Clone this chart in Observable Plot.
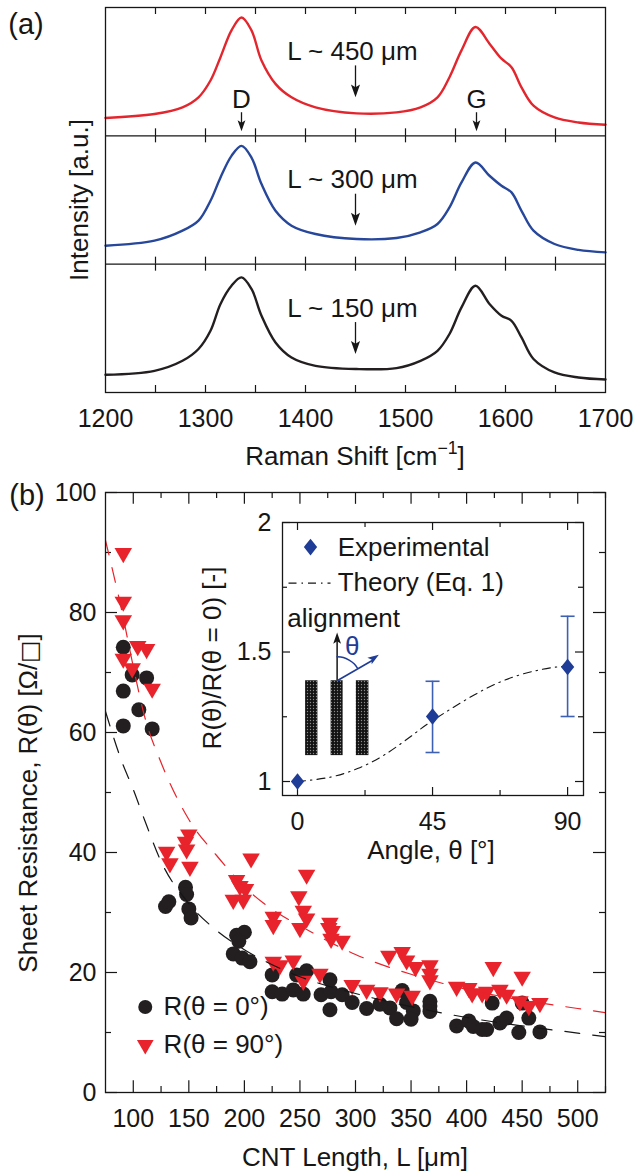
<!DOCTYPE html>
<html><head><meta charset="utf-8">
<script src="https://cdn.jsdelivr.net/npm/d3@7"></script>
<script src="https://cdn.jsdelivr.net/npm/@observablehq/plot@0.6"></script>
<style>
body{margin:0;background:#fff;}
#root{position:relative;width:634px;height:1174px;overflow:hidden;font-family:"Liberation Sans",Arial,Helvetica,sans-serif;color:#111;background:#fff;}
.panel{position:absolute;}
.lbl{position:absolute;transform:translate(-50%,-50%);white-space:nowrap;font-size:26px;line-height:1;}
.rot{transform:translate(-50%,-50%) rotate(-90deg);}
sup{font-size:0.68em;vertical-align:0.62em;line-height:0;}
.sq{font-family:"DejaVu Sans",sans-serif;font-size:0.9em;color:#161616;}
</style></head><body><div id="root"></div>
<script>
const FONT = '"Liberation Sans", Arial, Helvetica, sans-serif';

// ---------------- Panel (a): Raman spectra ----------------
const ramanShift = [1200,1249,1277,1293,1305,1315,1326,1336,1346,1356,1370,1386,1410,1451,1491,1515,1532,1544,1556,1570,1584,1596,1606,1616,1628,1649,1673,1700];
const intensity450 = [0.139,0.170,0.222,0.300,0.431,0.613,0.822,0.922,0.822,0.587,0.405,0.300,0.222,0.175,0.183,0.222,0.300,0.457,0.666,0.848,0.718,0.601,0.535,0.378,0.235,0.143,0.104,0.086];
const intensity300 = [0.144,0.183,0.261,0.339,0.494,0.676,0.844,0.922,0.831,0.624,0.416,0.300,0.235,0.196,0.204,0.248,0.313,0.442,0.637,0.792,0.689,0.611,0.559,0.416,0.261,0.157,0.111,0.092];
const intensity150 = [0.138,0.169,0.247,0.339,0.481,0.690,0.832,0.897,0.807,0.598,0.390,0.273,0.208,0.183,0.190,0.247,0.325,0.456,0.663,0.832,0.690,0.598,0.559,0.429,0.261,0.156,0.117,0.101];
const spectrumNames = ["L ~ 450 μm", "L ~ 300 μm", "L ~ 150 μm"];
const spectrumColors = ["#e3262d", "#27479b", "#231f20"];
const spectrumOffsets = [2, 1, 0];
const ramanTickLabels = [1200, 1300, 1400, 1500, 1600, 1700];
const ramanTicks = [1250, 1300, 1350, 1400, 1450, 1500, 1550, 1600, 1650];
const peakNames = ["D", "G"];
const peakShifts = [1336, 1571];
const annoShift = 1450;

// ---------------- Panel (b): sheet resistance ----------------
const lengthR0 = [91,99,112,91,105,91,117,129,132,147,148,150,152,193,200,195,190,198,205,225,225,234,247,256,244,253,269,277,278,277,288,297,310,322,331,337,342,346,352,350,367,367,367,391,402,406,414,418,423,430,436,447,450,456,466];
const sheetR0 = [74.2,69.6,69.1,66.9,63.8,61.1,60.6,31.0,31.8,34.2,33.0,30.6,29.1,26.2,26.7,25.2,23.1,22.4,21.8,19.6,16.8,16.4,19.6,20.3,17.1,16.4,16.3,18.8,16.8,13.8,16.3,15.0,14.0,14.7,14.1,12.3,17.0,15.0,13.6,12.2,15.2,14.4,13.5,11.1,11.9,11.0,10.5,10.5,14.9,11.6,12.4,10.0,14.9,12.4,10.1];
const lengthR90 = [91,91,91,104,112,91,99,117,130,133,150,147,148,151,206,193,196,201,190,199,256,249,253,256,250,226,226,226,232,244,253,268,277,276,279,278,288,297,310,322,337,351,330,342,346,354,367,367,367,391,402,405,414,418,424,430,436,450,448,456,466];
const sheetR90 = [89.9,81.8,78.7,74.4,73.9,72.3,70.7,67.3,40.1,38.2,43.0,41.8,40.5,37.6,39.0,35.4,34.4,33.9,32.1,32.1,36.3,32.7,30.3,29.0,27.4,29.3,27.9,21.8,21.2,22.0,18.6,19.8,28.3,27.4,26.9,25.6,25.3,17.9,17.1,16.7,16.5,16.1,22.8,23.4,22.0,20.9,21.2,19.8,18.7,17.6,17.4,16.5,16.5,16.8,20.9,17.1,16.3,19.3,15.2,14.4,14.9];
const fitLength = [75,90,100,110,125,150,175,200,225,250,300,350,400,450,500,525];
const fitR0 = [63.5,55.0,50.5,45.5,38.5,31.5,27.0,23.8,21.3,19.3,16.5,14.3,12.5,11.1,9.9,9.3];
const fitR90 = [92.0,80.0,71.0,62.8,55.0,45.5,39.5,34.3,30.5,27.8,23.0,19.7,17.2,15.4,14.0,13.3];
const lengthTickLabels = [100,150,200,250,300,350,400,450,500];
const lengthMinorTicks = [125,175,225,275,325,375,425,475,525];
const resistanceTickLabels = [0,20,40,60,80,100];
const resistanceMinorTicks = [10,30,50,70,90];
const legendB = ["R(θ = 0°)", "R(θ = 90°)"];

// ---------------- Inset ----------------
const expAngle = [0, 45, 90];
const expRatio = [1.0, 1.251, 1.442];
const expLow = [1.0, 1.112, 1.251];
const expHigh = [1.0, 1.387, 1.638];
const theoryAngle = [0, 11, 20, 29, 39, 45, 59, 73, 85, 90];
const theoryRatio = [1.0, 1.017, 1.05, 1.103, 1.185, 1.235, 1.335, 1.408, 1.440, 1.445];
const angleTickLabels = [0, 45, 90];
const angleMinorTicks = [22.5, 67.5];
const ratioTickLabels = [1, 1.5, 2];
const ratioMinorTicks = [1.25, 1.75];
const legendInset = ["Experimental", "Theory (Eq. 1)"];
const cntBars = [{x1: 2.7, x2: 6.8}, {x1: 11.2, x2: 15.2}, {x1: 19.6, x2: 23.8}];
const cntBarBottom = 1.10, cntBarTop = 1.389;
const alignArrow = {x: 13.2, y1: 1.389, y2: 1.575};
const thetaArrow = {x2: 27.1, y2: 1.489};
const arcAngle = [13.2, 15.27, 17.2, 18.86, 19.98];
const arcRatio = [1.482, 1.479, 1.469, 1.455, 1.438];

// ---------------- helpers ----------------
const INK = "#161616";
const arrowHead = {draw(ctx, size) {const r = Math.sqrt(size / Math.PI); ctx.moveTo(0, 0); ctx.lineTo(-0.65 * r, 1.85 * r); ctx.lineTo(0, 1.45 * r); ctx.lineTo(0.65 * r, 1.85 * r); ctx.closePath();}};
const triDown = {draw(ctx, size) {const y = Math.sqrt(size / (Math.sqrt(3) * 3)); ctx.moveTo(0, 2 * y); ctx.lineTo(-Math.sqrt(3) * y, -y); ctx.lineTo(Math.sqrt(3) * y, -y); ctx.closePath();}};
const diamond = {draw(ctx, size) {const r = Math.sqrt(size / Math.PI); ctx.moveTo(0, -r); ctx.lineTo(0.8 * r, 0); ctx.lineTo(0, r); ctx.lineTo(-0.8 * r, 0); ctx.closePath();}};

function xTickRules(vals, len, yFrom, dir, yDom, H) {
  const d = dir * len * (yDom[1] - yDom[0]) / H;
  return Plot.ruleX(vals, {x: v => v, y1: () => yFrom, y2: () => yFrom + d, stroke: INK, strokeWidth: 1.2});
}
function yTickRules(vals, len, xFrom, dir, xDom, W) {
  const d = dir * len * (xDom[1] - xDom[0]) / W;
  return Plot.ruleY(vals, {y: v => v, x1: () => xFrom, x2: () => xFrom + d, stroke: INK, strokeWidth: 1.2});
}
const svgStyle = {background: "transparent", fontFamily: FONT, fontSize: "25px", color: INK, overflow: "visible"};

const root = document.getElementById("root");
function place(node, left, top) {
  const d = document.createElement("div"); d.className = "panel"; d.style.left = left + "px"; d.style.top = top + "px";
  d.appendChild(node); root.appendChild(d); return node;
}
function label(html, x, y, {rot = false, size = 26, color = INK} = {}) {
  const d = document.createElement("div"); d.className = "lbl" + (rot ? " rot" : "");
  d.style.left = x + "px"; d.style.top = y + "px"; d.style.fontSize = size + "px"; d.style.color = color;
  d.innerHTML = html; root.appendChild(d);
}

// ---------------- Panel (a) ----------------
{
  const W = 500, H = 385, xDom = [1200, 1700], yDom = [0, 3];
  const marks = [];
  spectrumNames.forEach((name, k) => {
    const vals = [intensity450, intensity300, intensity150][k];
    const rows = ramanShift.map((s, i) => ({shift: s, y: vals[i] + spectrumOffsets[k]}));
    marks.push(Plot.line(rows, {x: "shift", y: "y", stroke: spectrumColors[k], strokeWidth: 2.4, curve: "catmull-rom"}));
  });
  marks.push(Plot.ruleY([1, 2], {stroke: INK, strokeWidth: 1.3}));
  for (const b of [0, 1, 2, 3]) {
    if (b < 3) marks.push(xTickRules(ramanTicks, 7, b, 1, yDom, H));
    if (b > 0) marks.push(xTickRules(ramanTicks, 7, b, -1, yDom, H));
  }
  const annoRows = spectrumNames.map((name, k) => ({name, off: spectrumOffsets[k]}));
  marks.push(Plot.text(annoRows, {x: () => annoShift - 3, y: d => d.off + 0.655, text: "name", fontSize: 26, fill: INK}));
  marks.push(Plot.ruleX(annoRows, {x: () => annoShift, y1: d => d.off + 0.545, y2: d => d.off + 0.33, stroke: INK, strokeWidth: 1.3}));
  marks.push(Plot.dot(annoRows, {x: () => annoShift, y: d => d.off + 0.30, symbol: arrowHead, r: 7, rotate: 180, fill: INK, stroke: "none"}));
  const peakRows = peakNames.map((n, i) => ({n, s: peakShifts[i]}));
  marks.push(Plot.text(peakRows, {x: "s", y: () => 2.285, text: "n", fontSize: 26, fill: INK}));
  marks.push(Plot.ruleX(peakRows, {x: "s", y1: () => 2.18, y2: () => 2.06, stroke: INK, strokeWidth: 1.3}));
  marks.push(Plot.dot(peakRows, {x: "s", y: () => 2.035, symbol: arrowHead, r: 6, rotate: 180, fill: INK, stroke: "none"}));
  marks.push(Plot.frame({stroke: INK, strokeWidth: 1.3}));
  marks.push(Plot.axisX({ticks: ramanTickLabels, tickSize: 0, tickPadding: 17, label: null, fontSize: 25, tickFormat: d => String(d)}));
  place(Plot.plot({width: 634, height: 470, marginLeft: 105, marginRight: 29, marginTop: 7, marginBottom: 78,
    x: {domain: xDom}, y: {domain: yDom, axis: null}, style: svgStyle, marks}), 0, 0);
}

// ---------------- Panel (b) ----------------
{
  const W = 500, H = 608, xDom = [75, 525], yDom = [0, 100];
  const r0 = lengthR0.map((L, i) => ({L, R: sheetR0[i]}));
  const r90 = lengthR90.map((L, i) => ({L, R: sheetR90[i]}));
  const f0 = fitLength.map((L, i) => ({L, R: fitR0[i]}));
  const f90 = fitLength.map((L, i) => ({L, R: fitR90[i]}));
  const marks = [
    xTickRules(lengthTickLabels, 12, 0, 1, yDom, H), xTickRules(lengthTickLabels, 12, 100, -1, yDom, H),
    xTickRules(lengthMinorTicks, 6, 0, 1, yDom, H), xTickRules(lengthMinorTicks, 6, 100, -1, yDom, H),
    yTickRules(resistanceTickLabels, 12, 75, 1, xDom, W), yTickRules(resistanceTickLabels, 12, 525, -1, xDom, W),
    yTickRules(resistanceMinorTicks, 6, 75, 1, xDom, W), yTickRules(resistanceMinorTicks, 6, 525, -1, xDom, W),
    Plot.dot(r0, {x: "L", y: "R", r: 7.5, fill: "#231f20", stroke: "none"}),
    Plot.dot(r90, {x: "L", y: "R", symbol: triDown, r: 6.5, fill: "#e8232b", stroke: "none"}),
    Plot.line(f0, {x: "L", y: "R", stroke: INK, strokeWidth: 1.2, strokeDasharray: "15,13", curve: "monotone-x", clip: true}),
    Plot.line(f90, {x: "L", y: "R", stroke: "#e8232b", strokeWidth: 1.2, strokeDasharray: "15,13", curve: "monotone-x", clip: true}),
    Plot.dot([legendB[0]], {x: () => 110.8, y: () => 14.26, r: 7, fill: "#231f20", stroke: "none"}),
    Plot.dot([legendB[1]], {x: () => 110.8, y: () => 7.95, symbol: triDown, r: 6.2, fill: "#e8232b", stroke: "none"}),
    Plot.text(legendB, {x: () => 127.3, y: (d, i) => [14.26, 7.95][i], text: d => d, textAnchor: "start", fontSize: 26, fill: INK}),
    Plot.frame({stroke: INK, strokeWidth: 1.3}),
    Plot.axisX({ticks: lengthTickLabels, tickSize: 0, tickPadding: 17, label: null, fontSize: 25, tickFormat: d => String(d)}),
    Plot.axisY({ticks: resistanceTickLabels, tickSize: 0, tickPadding: 9, label: null, fontSize: 25, tickFormat: d => String(d)})
  ];
  place(Plot.plot({width: 634, height: 704, marginLeft: 105, marginRight: 29, marginTop: 22, marginBottom: 82,
    x: {domain: xDom}, y: {domain: yDom}, style: svgStyle, marks}), 0, 470);
}

// ---------------- Inset ----------------
{
  const W = 301, H = 273, xDom = [-5, 95.3], yDom = [0.946, 2.0];
  const exp = expAngle.map((a, i) => ({a, r: expRatio[i], lo: expLow[i], hi: expHigh[i]}));
  const errs = exp.filter(d => d.hi > d.lo);
  const theory = theoryAngle.map((a, i) => ({a, r: theoryRatio[i]}));
  const arc = arcAngle.map((a, i) => ({a, r: arcRatio[i]}));
  const capHalf = 7 / 3;
  const blue = "#1f3c96", blueLight = "#3e60b2";
  const marks = [
    Plot.frame({fill: "white", stroke: "none"}),
    xTickRules(angleTickLabels, 8, yDom[0], 1, yDom, H), xTickRules(angleTickLabels, 8, yDom[1], -1, yDom, H),
    xTickRules(angleMinorTicks, 5, yDom[0], 1, yDom, H), xTickRules(angleMinorTicks, 5, yDom[1], -1, yDom, H),
    yTickRules(ratioTickLabels, 8, xDom[0], 1, xDom, W), yTickRules(ratioTickLabels, 8, xDom[1], -1, xDom, W),
    yTickRules(ratioMinorTicks, 5, xDom[0], 1, xDom, W), yTickRules(ratioMinorTicks, 5, xDom[1], -1, xDom, W),
    Plot.line(theory, {x: "a", y: "r", stroke: INK, strokeWidth: 1.1, strokeDasharray: "8,5,1.5,5", curve: "natural"}),
    Plot.ruleX(errs, {x: "a", y1: "lo", y2: "hi", stroke: blueLight, strokeWidth: 1.6}),
    Plot.link(errs, {x1: d => d.a - capHalf, x2: d => d.a + capHalf, y1: "hi", y2: "hi", stroke: blueLight, strokeWidth: 1.6}),
    Plot.link(errs, {x1: d => d.a - capHalf, x2: d => d.a + capHalf, y1: "lo", y2: "lo", stroke: blueLight, strokeWidth: 1.6}),
    Plot.dot(exp, {x: "a", y: "r", symbol: diamond, r: 8.3, fill: blue, stroke: "none"}),
    Plot.rect(cntBars, {x1: "x1", x2: "x2", y1: () => cntBarBottom, y2: () => cntBarTop, fill: "url(#cntdots)"}),
    Plot.ruleX([alignArrow], {x: "x", y1: "y1", y2: d => d.y2 - 0.03, stroke: INK, strokeWidth: 1.5}),
    Plot.dot([alignArrow], {x: "x", y: "y2", symbol: arrowHead, r: 6, fill: INK, stroke: "none"}),
    Plot.link([thetaArrow], {x1: () => alignArrow.x, y1: () => alignArrow.y1, x2: d => d.x2 - 2.2, y2: d => d.y2 - 0.022, stroke: blue, strokeWidth: 1.6}),
    Plot.dot([thetaArrow], {x: "x2", y: "y2", symbol: arrowHead, r: 6, rotate: 57, fill: blue, stroke: "none"}),
    Plot.line(arc, {x: "a", y: "r", stroke: blue, strokeWidth: 1.5, curve: "natural"}),
    Plot.text(["θ"], {x: () => 18.2, y: () => 1.521, text: d => d, fill: blue, fontSize: 26}),
    Plot.text(["alignment"], {x: () => -3.4, y: () => 1.63, text: d => d, textAnchor: "start", fontSize: 26, fill: INK}),
    Plot.dot([legendInset[0]], {x: () => 4.33, y: () => 1.905, symbol: diamond, r: 8.3, fill: blue, stroke: "none"}),
    Plot.link([legendInset[1]], {x1: () => -3, x2: () => 11, y1: () => 1.766, y2: () => 1.766, stroke: INK, strokeWidth: 1.1, strokeDasharray: "8,5,1.5,5"}),
    Plot.text(legendInset, {x: () => 13.4, y: (d, i) => [1.903, 1.766][i], text: d => d, textAnchor: "start", fontSize: 26, fill: INK}),
    Plot.frame({stroke: INK, strokeWidth: 1.3}),
    Plot.axisX({ticks: angleTickLabels, tickSize: 0, tickPadding: 17, label: null, fontSize: 25, tickFormat: d => String(d)}),
    Plot.axisY({ticks: ratioTickLabels, tickSize: 0, tickPadding: 11, label: null, fontSize: 25, tickFormat: d => String(d)})
  ];
  const svg = place(Plot.plot({width: 415, height: 365, marginLeft: 102, marginRight: 12, marginTop: 22, marginBottom: 70,
    x: {domain: xDom}, y: {domain: yDom}, style: svgStyle, marks}), 180, 500);
  const ns = "http://www.w3.org/2000/svg";
  const defs = document.createElementNS(ns, "defs");
  defs.innerHTML = '<pattern id="cntdots" patternUnits="userSpaceOnUse" width="3" height="3"><rect width="3" height="3" fill="#141414"/><circle cx="1.5" cy="1.5" r="0.65" fill="#8c8c8c"/></pattern>';
  svg.insertBefore(defs, svg.firstChild);
}

// ---------------- titles ----------------
label("(a)", 26, 24, {size: 29});
label("Intensity [a.u.]", 79, 200, {rot: true});
label("Raman Shift [cm<sup>−1</sup>]", 355, 456);
label("(b)", 27, 495, {size: 29});
label('Sheet Resistance, R(θ) [Ω/<span class="sq">□</span>]', 28, 803, {rot: true});
label("CNT Length, L [μm]", 355, 1157);
label("R(θ)/R(θ = 0) [-]", 212, 658, {rot: true});
label("Angle, θ [°]", 431, 850);
</script></body></html>
